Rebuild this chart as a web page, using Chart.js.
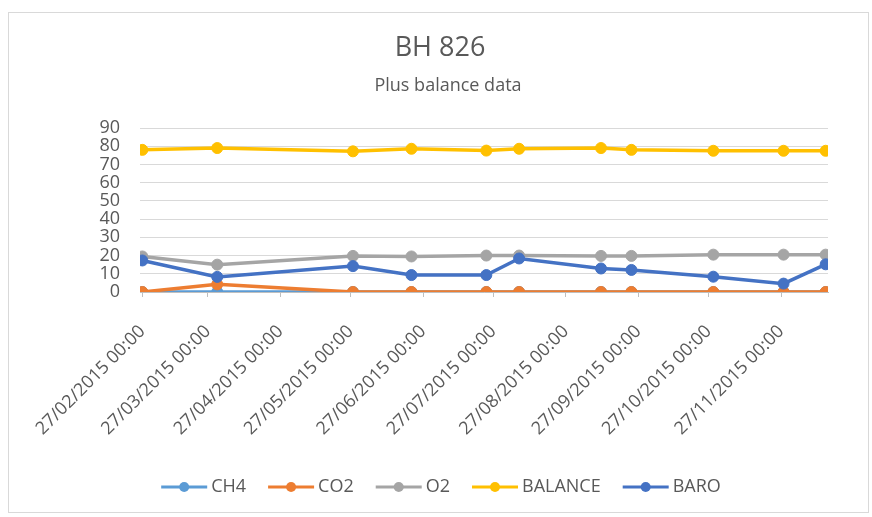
<!DOCTYPE html>
<html>
<head>
<meta charset="utf-8">
<title>BH 826</title>
<script src="https://cdn.jsdelivr.net/npm/chart.js@4"></script>
<style>
    body { margin: 0; background: #fff; }
    #wrap { width: 872px; height: 517px; position: relative; }
</style>
</head>
<body>
<div id="wrap"><canvas id="bh-chart"></canvas></div>
<script>
// sample dates and readings for borehole BH 826
const sampleDates = ['2015-02-27', '2015-03-31', '2015-05-28', '2015-06-22', '2015-07-24', '2015-08-07',
    '2015-09-11', '2015-09-24', '2015-10-29', '2015-11-28', '2015-12-16'];
const ch4 = [0, 0, 0, 0, 0, 0, 0, 0, 0, 0, 0];
const co2 = [0, 4.2, 0, 0, 0, 0, 0, 0, 0, 0, 0];
const o2 = [19.5, 15, 19.8, 19.5, 20, 20, 19.8, 19.8, 20.5, 20.5, 20.5];
const balance = [78, 79, 77.2, 78.6, 77.6, 78.6, 79, 78, 77.5, 77.5, 77.5];
const baro = [17.3, 8.3, 14.2, 9.3, 9.3, 18.4, 12.9, 12.1, 8.4, 4.6, 15.2];

const tickLabels = ['27/02/2015 00:00', '27/03/2015 00:00', '27/04/2015 00:00', '27/05/2015 00:00',
    '27/06/2015 00:00', '27/07/2015 00:00', '27/08/2015 00:00', '27/09/2015 00:00',
    '27/10/2015 00:00', '27/11/2015 00:00'];
const yTicks = [0, 10, 20, 30, 40, 50, 60, 70, 80, 90];

const chartTitle = 'BH 826';
const chartSubtitle = 'Plus balance data';

const FONT = "'Open Sans', sans-serif";
const TEXT = '#595959';

// days since epoch, so the x axis is a plain linear scale
function isoToDay(s) {
    const [y, m, d] = s.split('-').map(Number);
    return Date.UTC(y, m - 1, d) / 864e5;
}
function labelToDay(s) {
    const [d, m, y] = s.split(' ')[0].split('/').map(Number);
    return Date.UTC(y, m - 1, d) / 864e5;
}

const xDays = sampleDates.map(isoToDay);
const tickDays = tickLabels.map(labelToDay);

function series(label, values, color, order) {
    return {
        label,
        data: values.map((v, i) => ({ x: xDays[i], y: v })),
        borderColor: color,
        backgroundColor: color,
        pointBackgroundColor: color,
        pointBorderColor: color,
        borderWidth: 3.5,
        pointRadius: 5.5,
        pointBorderWidth: 1,
        tension: 0,
        order
    };
}

// frame, white background and the two heading lines
const framePlugin = {
    id: 'frame',
    beforeDraw(chart) {
        const ctx = chart.ctx;
        ctx.save();
        ctx.fillStyle = '#fff';
        ctx.fillRect(0, 0, chart.width, chart.height);
        ctx.strokeStyle = '#d9d9d9';
        ctx.lineWidth = 1;
        ctx.strokeRect(8.5, 12.5, 860, 500);

        ctx.fillStyle = TEXT;
        ctx.textAlign = 'center';
        ctx.textBaseline = 'middle';
        ctx.font = `27px ${FONT}`;
        ctx.fillText(chartTitle, 440, 48);
        ctx.font = `18px ${FONT}`;
        ctx.fillText(chartSubtitle, 448, 86);
        ctx.restore();
    }
};

// Excel style legend: short line with a marker in the middle
const lineLegend = {
    id: 'lineLegend',
    afterDraw(chart) {
        const ctx = chart.ctx;
        const lineW = 46, gap = 4, spacing = 22, y = 487;
        ctx.save();
        ctx.font = `18px ${FONT}`;
        ctx.textBaseline = 'middle';
        const items = chart.data.datasets.map(ds => ({
            ds, w: lineW + gap + ctx.measureText(ds.label).width
        }));
        const total = items.reduce((s, it) => s + it.w, 0) + spacing * (items.length - 1);
        let x = 441 - total / 2;
        items.forEach(({ ds, w }) => {
            ctx.strokeStyle = ds.borderColor;
            ctx.lineWidth = 3;
            ctx.beginPath();
            ctx.moveTo(x, y);
            ctx.lineTo(x + lineW, y);
            ctx.stroke();
            ctx.fillStyle = ds.borderColor;
            ctx.beginPath();
            ctx.arc(x + lineW / 2, y, 5, 0, Math.PI * 2);
            ctx.fill();
            ctx.fillStyle = TEXT;
            ctx.fillText(ds.label, x + lineW + gap, y);
            x += w + spacing;
        });
        ctx.restore();
    }
};

new Chart(document.getElementById('bh-chart'), {
    type: 'line',
    data: {
        datasets: [
            series('CH4', ch4, '#5b9bd5', 5),
            series('CO2', co2, '#ed7d31', 4),
            series('O2', o2, '#a5a5a5', 3),
            series('BALANCE', balance, '#ffc000', 2),
            series('BARO', baro, '#4472c4', 1)
        ]
    },
    options: {
        responsive: true,
        maintainAspectRatio: false,
        animation: false,
        layout: { padding: { left: 0, right: 44, top: 128, bottom: 0 } },
        plugins: {
            legend: { display: false },
            tooltip: { enabled: false }
        },
        scales: {
            x: {
                type: 'linear',
                min: xDays[0] - 1,
                max: xDays[xDays.length - 1] + 1,
                afterBuildTicks: scale => {
                    scale.ticks = tickDays.map(v => ({ value: v }));
                },
                afterFit: scale => { scale.height = 225; },
                grid: { drawOnChartArea: false, drawTicks: true, tickLength: 5, color: '#bfbfbf' },
                border: { display: true, color: '#bfbfbf' },
                ticks: {
                    autoSkip: false,
                    maxRotation: 45,
                    minRotation: 45,
                    padding: 24,
                    color: TEXT,
                    font: { family: FONT, size: 18 },
                    callback: value => tickLabels[tickDays.indexOf(value)]
                }
            },
            y: {
                min: yTicks[0],
                max: yTicks[yTicks.length - 1],
                afterBuildTicks: scale => {
                    scale.ticks = yTicks.map(v => ({ value: v }));
                },
                afterFit: scale => { scale.width = 140; },
                grid: { color: '#d9d9d9', drawTicks: false },
                border: { display: false },
                ticks: {
                    autoSkip: false,
                    padding: 20,
                    color: TEXT,
                    font: { family: FONT, size: 18, lineHeight: 1 }
                }
            }
        }
    },
    plugins: [framePlugin, lineLegend]
});
</script>
</body>
</html>
